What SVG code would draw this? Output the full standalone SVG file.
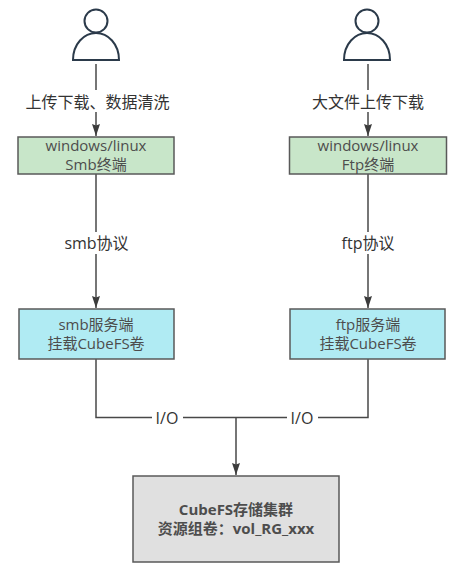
<svg xmlns="http://www.w3.org/2000/svg" width="458" height="572" viewBox="0 0 458 572">
<style>
text{font-family:"Open Sans","Noto Sans CJK SC",sans-serif;font-size:15px;fill:#4d4d4d;text-anchor:middle}
.lbl{fill:#333;font-size:16px}
.bold{font-weight:700}
.box{stroke:#595959;stroke-width:1.5}
.person{fill:#fff;stroke:#2b3a4a;stroke-width:2}
.conn{fill:none;stroke:#484848;stroke-width:1.5}
</style>
<defs>
<marker id="arrow" markerUnits="userSpaceOnUse" markerWidth="13" markerHeight="12" refX="12" refY="6" orient="auto">
<path d="M0 2L12 6L0 10L1.500 6Z" fill="#3c3c3c"/>
</marker>
<g id="personShape">
<path class="person" d="M-23 60 C-23 44 -12 33 0 33 C12 33 23 44 23 60Z"/>
<circle class="person" cx="0" cy="21" r="11.500"/>
</g>
</defs>
<rect width="458" height="572" fill="#fff"/>
<g id="connectors">
<path class="conn" d="M96 64V136" marker-end="url(#arrow)"/>
<path class="conn" d="M368 64V136" marker-end="url(#arrow)"/>
<path class="conn" d="M96 174V308" marker-end="url(#arrow)"/>
<path class="conn" d="M368 174V308" marker-end="url(#arrow)"/>
<path class="conn" d="M96 359V417.500H368V359"/>
<path class="conn" d="M236 417.500V475" marker-end="url(#arrow)"/>
<g>
<rect x="22" y="90" width="150" height="22" fill="#fff"/>
<text class="lbl" x="97.500" y="108">上传下载、数据清洗</text>
<rect x="308" y="90" width="120" height="22" fill="#fff"/>
<text class="lbl" x="368" y="108">大文件上传下载</text>
<rect x="62" y="232" width="68" height="22" fill="#fff"/>
<text class="lbl" x="96.500" y="248.500">smb协议</text>
<rect x="339" y="232" width="58" height="22" fill="#fff"/>
<text class="lbl" x="368" y="248.500">ftp协议</text>
<rect x="152" y="407" width="31" height="22" fill="#fff"/>
<text class="lbl" x="167" y="423.500">I/O</text>
<rect x="287" y="407" width="31" height="22" fill="#fff"/>
<text class="lbl" x="302" y="423.500">I/O</text>
</g>
</g>
<g id="user-left"><use href="#personShape" x="96"/></g>
<g id="user-right"><use href="#personShape" x="367"/></g>
<g id="smb-client">
<rect class="box" x="18" y="137" width="156" height="37" fill="#c8e6c9"/>
<text x="96" y="151">windows/linux</text>
<text x="96" y="170">Smb终端</text>
</g>
<g id="ftp-client">
<rect class="box" x="289.500" y="137" width="157" height="37" fill="#c8e6c9"/>
<text x="368" y="151">windows/linux</text>
<text x="368" y="170">Ftp终端</text>
</g>
<g id="smb-server">
<rect class="box" x="19" y="309" width="155" height="50" fill="#b0ebf3"/>
<text x="96" y="330">smb服务端</text>
<text x="96" y="349">挂载CubeFS卷</text>
</g>
<g id="ftp-server">
<rect class="box" x="290" y="309" width="155" height="50" fill="#b0ebf3"/>
<text x="368" y="330">ftp服务端</text>
<text x="368" y="349">挂载CubeFS卷</text>
</g>
<g id="cluster">
<rect class="box" x="133" y="476" width="206" height="86" fill="#e0e0e0"/>
<text class="bold" x="236" y="515">CubeFS存储集群</text>
<text class="bold" x="236" y="534">资源组卷：vol_RG_xxx</text>
</g>
</svg>
